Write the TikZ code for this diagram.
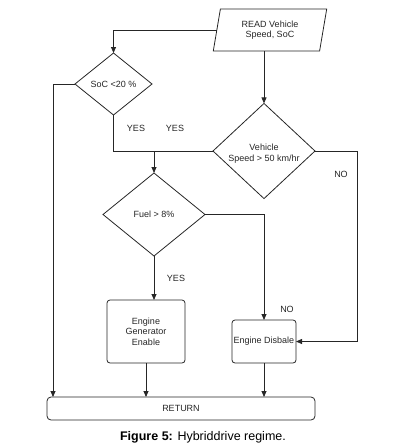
\documentclass[tikz,border=0pt]{standalone}
\usepackage{fontspec}
\setmainfont{Liberation Sans}
\usetikzlibrary{shapes.geometric,arrows.meta}
\begin{document}
\begin{tikzpicture}[x=1pt,y=-1pt,
  every node/.style={font=\fontsize{9}{10.5}\selectfont, text=black!85},
  ln/.style={draw=black!85, line width=0.8pt},
  arr/.style={ln, -{Triangle[length=6pt,width=5pt]}},
  dia/.style={diamond, draw=black!85, line width=0.8pt, inner sep=0pt, outer sep=0pt, align=center},
  boxx/.style={rectangle, rounded corners=3pt, draw=black!85, line width=0.8pt, inner sep=1pt, outer sep=0pt, align=center},
  lbl/.style={font=\fontsize{9}{10}\selectfont}]
\useasboundingbox (0,0) rectangle (414,448);
\node[trapezium, trapezium left angle=77.9, trapezium right angle=102.1, trapezium stretches=true,
      draw=black!85, line width=0.8pt, inner sep=0pt, outer sep=0pt,
      minimum width=114pt, minimum height=42pt, align=center] (read) at (270,30) {READ Vehicle\\Speed, SoC};
\node[dia, minimum width=77pt, minimum height=62pt] (soc) at (113.5,84) {SoC <20 \%};
\node[dia, minimum width=102pt, minimum height=82pt] (veh) at (264,151) {\\[1pt]Vehicle\\Speed > 50 km/hr};
\node[dia, minimum width=102pt, minimum height=83pt] (fuel) at (154,214.5) {Fuel > 8\%};
\node[boxx, minimum width=78pt, minimum height=63pt] (gen) at (146,331.5) {Engine\\Generator\\Enable};
\node[boxx, minimum width=64pt, minimum height=43pt] (dis) at (264,341.5) {Engine Disbale};
\node[boxx, rounded corners=4pt, minimum width=268pt, minimum height=23pt] (ret) at (181,408.5) {RETURN};
\coordinate (jl) at (53,84);
\coordinate (jr) at (357,151);
\coordinate (jm) at (154,151);
% connectors
\draw[arr] (read.west) -| (soc.north);
\draw[arr] (read.south -| veh.north) -- (veh.north);
\draw[arr] (soc.west) -- (jl) -- (jl |- ret.north);
\draw[ln] (soc.south) |- (veh.west);
\draw[arr] (jm) -- (fuel.north);
\draw[arr] (veh.east) -- (jr) |- (dis.east);
\draw[arr] (fuel.south) -- (fuel.south |- gen.north);
\draw[arr] (fuel.east) -| (dis.north);
\draw[arr] (gen.south) -- (gen.south |- ret.north);
\draw[arr] (dis.south) -- (dis.south |- ret.north);
% labels
\node[lbl] (y1) at (136,128) {YES};
\node[lbl] (y2) at (175,128) {YES};
\node[lbl] (n1) at (341,174) {NO};
\node[lbl] (y3) at (176,278) {YES};
\node[lbl] (n2) at (287,309) {NO};
\node[font=\fontsize{12.5}{14}\selectfont, text=black] (cap) at (203,437) {\textbf{Figure 5:} Hybriddrive regime.};
\end{tikzpicture}
\end{document}
